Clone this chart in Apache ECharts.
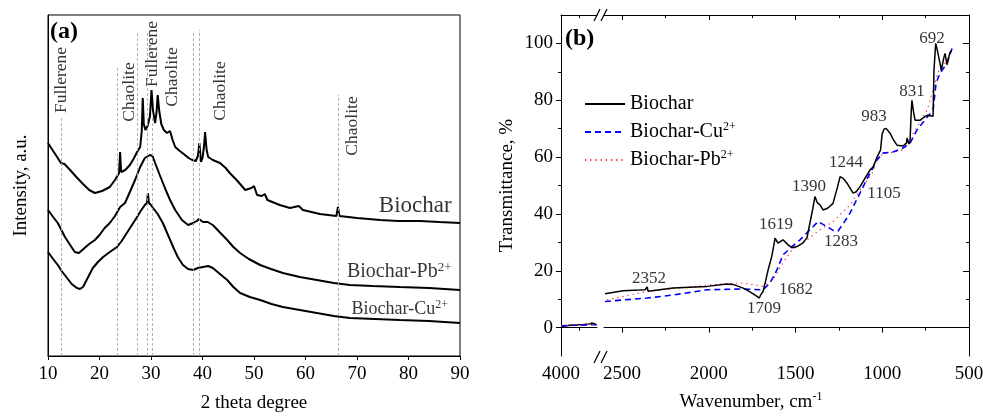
<!DOCTYPE html>
<html><head><meta charset="utf-8">
<script src="https://cdn.jsdelivr.net/npm/echarts@6/dist/echarts.min.js"></script>
<style>html,body{margin:0;padding:0;background:#fff}#c{width:983px;height:417px}</style>
</head><body><div id="c"></div>
<script>
const FONT = '"Liberation Serif","Times New Roman",serif';

// ---------- Panel (a): XRD ----------
const xrdBiocharTheta = [10.0,11.0,11.9,12.5,13.2,14.3,15.5,16.8,18.0,19.1,20.5,22.0,23.0,23.8,24.0,24.2,25.0,25.9,26.6,27.3,27.9,28.2,28.4,28.6,28.9,29.4,29.8,30.1,30.4,30.8,31.1,31.3,31.6,32.0,32.5,33.1,33.7,34.2,34.7,35.6,36.6,37.3,38.0,38.7,39.1,39.4,39.7,40.0,40.3,40.5,40.8,41.1,42.0,43.4,44.5,45.3,46.8,48.3,49.5,50.0,50.6,51.5,52.1,52.6,55.0,57.0,58.7,59.5,62.8,66.0,66.3,66.6,70.0,74.5,78.0,82.2,86.0,90.0];
const xrdBiocharI = [213,205,198,193,192,186,179,172,166,163,165,169,176,183,204,184,186,191,197,204,209,225,258,232,226,231,240,266,245,233,245,261,245,232,226,223,225,216,209,205,201,198,196,195,200,213,194,198,210,224,206,199,196,193,188,183,175,166,168,170,161,160,162,156,151,148,150,146,142,140,149,140,138,136,135,135,134,133];
const xrdPbTheta = [10.0,11.0,11.9,13.3,14.3,15.2,16.0,17.1,18.0,19.1,20.0,21.0,22.0,23.0,24.0,24.95,25.9,26.9,27.9,28.8,29.8,30.3,30.8,31.7,32.7,33.7,34.7,36.0,37.2,38.2,38.9,39.3,40.1,41.0,42.0,43.3,44.8,46.0,47.3,49.0,51.2,53.3,55.6,58.9,62.2,65.5,68.6,73.0,78.3,84.0,90.0];
const xrdPbI = [146,139,133,119,111,104,103,108,112,116,121,128,133,140,149,153,164,176,189,198,201,200,193,181,168,156,146,136,131,133,135,137,134,134,131,124,116,109,103,97,91,87,83,79,76,73,71,70,69,68,66];
const xrdCuTheta = [10.0,11.0,11.9,12.8,13.7,14.6,15.6,16.2,16.8,17.7,18.7,19.7,20.7,22.0,23.4,24.3,25.3,26.3,27.3,28.0,28.8,29.2,29.4,29.6,30.0,30.4,31.3,32.3,33.3,34.3,35.2,36.2,37.2,38.2,39.1,40.1,41.1,42.0,43.4,44.8,46.0,47.3,49.2,51.2,53.4,55.6,58.9,62.2,65.5,68.6,73.5,78.3,84.0,90.0];
const xrdCuI = [104,97,91,84,78,72,68,67,69,78,88,94,99,104,109,115,123,131,139,145,151,153,163,153,151,148,142,133,121,109,99,91,87,86,88,89,90,88,82,76,69,63,59,56,52,49,46,43,40,38,37,36,35,33];
// reference phase lines: 2theta and line top (a.u.)
const refLineTheta = [12.5,23.4,27.3,29.2,30.2,38.2,39.3,66.3];
const refLineTop = [238,289,323,323,239,324,326,261];
// phase labels: text, 2theta, a.u.
const phaseNames = ['Fullerene','Chaolite','Fullerene','Chaolite','Chaolite','Chaolite'];
const phaseTheta = [12.6,25.9,30.2,34.1,43.4,69.2];
const phaseI = [276,264,302,279,265,230];

// ---------- Panel (b): FTIR ----------
const ftirBiocharW_hi = [4000,3950,3900,3850,3800,3760,3740,3700,3650,3630,3600,3570,3550,3520,3505];
const ftirBiocharT_hi = [0.5,0.6,0.7,0.9,0.8,1.0,0.6,1.0,1.2,0.5,1.3,1.6,1.0,1.2,1.1];
const ftirCuW_hi = [4000,3800,3600,3505];
const ftirCuT_hi = [0.6,0.8,1.0,1.0];
const ftirPbW_hi = [4000,3800,3600,3505];
const ftirPbT_hi = [0.7,0.9,1.1,1.1];

const ftirBiocharW = [2598,2494,2400,2367,2355,2350,2339,2206,2010,1895,1860,1802,1760,1722,1709,1700,1687,1672,1658,1637,1625,1618,1601,1572,1543,1520,1491,1457,1434,1417,1400,1388,1375,1359,1341,1315,1284,1260,1243,1225,1203,1168,1150,1128,1088,1070,1053,1030,1010,1001,990,978,955,935,915,880,860,857,846,840,833,829,820,811,782,760,742,707,702,692,684,667,660,650,645,638,627,617,610,600];
const ftirBiocharT = [11.9,13.0,13.2,13.3,14.3,12.8,13.5,13.9,14.5,15.3,15.2,13.9,12.5,11.0,10.4,11.6,12.7,16.5,20.3,25,29,31.5,29.7,30.9,29.1,28.1,28.5,29.8,31.6,36.8,42,46.1,44,43.2,41.4,42,43.7,49,53.1,52.5,50.8,47.3,47.8,49.6,53.7,55.5,56.5,60,62.5,68,69.8,70.1,68.4,66,64.2,63.9,65,66.7,64.6,65.5,76,80,76,73,73,74,74.7,74.4,90.5,100,98,93,90.5,89.8,95,96.5,92.5,95,96.8,97.5];
const ftirCuW = [2598,2356,2200,2010,1820,1687,1647,1607,1572,1520,1474,1417,1370,1318,1283,1255,1220,1186,1128,1082,1030,996,938,880,840,800,742,707,690,667,627,598];
const ftirCuT = [9.2,10.4,11.5,13.3,13.6,13.3,15.7,20.3,25.6,28.5,30.9,34.4,37.3,35.5,34.2,34.0,37,40.3,47.4,53,59,61.4,61.8,63.2,64.9,69.5,74,76.5,86,89.5,93,98.2];
const ftirPbW = [2586,2356,2183,1918,1802,1687,1630,1572,1520,1457,1400,1359,1284,1186,1128,1060,1024,990,955,880,800,742,707,679,627,598];
const ftirPbT = [9.8,12.7,13.9,15.4,15.7,14.5,16.8,22.8,27.4,29.7,32.5,34.4,37.3,43.2,48.4,54,60,61.2,61.5,62.5,70.5,76.5,83.5,89.8,94,98];

const ftirMajorW = [500,1000,1500,2000,2500];
const ftirMinorW = [750,1250,1750,2250];
const ftirMajorW_hi = [4000];
const ftirMinorW_hi = [3750];
const ftirMajorT = [0,20,40,60,80,100];
const ftirMinorT = [10,30,50,70,90];
// peak annotations: text and anchor (wavenumber, %)
const peakText = ['692','831','983','1244','1390','1105','1619','1283','1682','1709','2352'];
const peakW = [713,829,1048,1209,1422,990,1612,1238,1497,1682,2344];
const peakT = [101.8,83.2,74.4,58.2,49.8,47,36.1,30.2,13.3,6.7,17.2];

const zip = (a,b) => a.map((v,i)=>[v,b[i]]);
const blk = '#000';
const plain = v => String(v);
const txt = (size, extra) => Object.assign({fontFamily: FONT, fontSize: size, color: blk}, extra||{});

const supRich = {
  m: {fontFamily: FONT, fontSize: 20, color: blk, lineHeight: 22},
  s: {fontFamily: FONT, fontSize: 12, color: blk, lineHeight: 13, verticalAlign: 'top'}
};
function richName(n){
  const m = n.match(/^(.*?)(\d\+)$/);
  return m ? '{m|'+m[1]+'}{s|'+m[2]+'}' : '{m|'+n+'}';
}

const axisLineK = {show:true, lineStyle:{color:blk, width:1}};
const noSplit = {show:false};

const xAxes = [
  // 0 panel a bottom
  {gridIndex:0, type:'value', min:10, max:90, interval:10, axisLine:axisLineK,
   axisTick:{show:true, length:4, lineStyle:{color:blk}}, axisLabel:txt(19,{margin:9, formatter:plain}), splitLine:noSplit,
   name:'2 theta degree', nameLocation:'middle', nameGap:38, nameTextStyle:txt(19)},
  // 1 B1 bottom major
  {gridIndex:1, type:'value', min:3500, max:4000, inverse:true, axisLine:axisLineK,
   axisTick:{show:true, length:5, customValues:ftirMajorW_hi, lineStyle:{color:blk}},
   axisLabel:txt(19,{margin:9, customValues:ftirMajorW_hi, formatter:plain}), splitLine:noSplit},
  // 2 B1 bottom minor
  {gridIndex:1, type:'value', position:'bottom', min:3500, max:4000, inverse:true, axisLine:{show:false},
   axisTick:{show:true, length:3, customValues:ftirMinorW_hi, lineStyle:{color:blk}},
   axisLabel:{show:false}, splitLine:noSplit},
  // 3 B1 top
  {gridIndex:1, type:'value', position:'top', min:3500, max:4000, inverse:true, axisLine:axisLineK,
   axisTick:{show:true, inside:true, length:3, customValues:ftirMinorW_hi, lineStyle:{color:blk}},
   axisLabel:{show:false}, splitLine:noSplit},
  // 4 B2 bottom major
  {gridIndex:2, type:'value', position:'bottom', min:500, max:2604, inverse:true, axisLine:axisLineK,
   axisTick:{show:true, length:5, customValues:ftirMajorW, lineStyle:{color:blk}},
   axisLabel:txt(19,{margin:9, customValues:ftirMajorW, formatter:plain}), splitLine:noSplit},
  // 5 B2 bottom minor
  {gridIndex:2, type:'value', position:'bottom', min:500, max:2604, inverse:true, axisLine:{show:false},
   axisTick:{show:true, length:3, customValues:ftirMinorW, lineStyle:{color:blk}},
   axisLabel:{show:false}, splitLine:noSplit},
  // 6 B2 top major
  {gridIndex:2, type:'value', position:'top', min:500, max:2604, inverse:true, axisLine:axisLineK,
   axisTick:{show:true, inside:true, length:5, customValues:ftirMajorW, lineStyle:{color:blk}},
   axisLabel:{show:false}, splitLine:noSplit},
  // 7 B2 top minor
  {gridIndex:2, type:'value', position:'top', min:500, max:2604, inverse:true, axisLine:{show:false},
   axisTick:{show:true, inside:true, length:3, customValues:ftirMinorW, lineStyle:{color:blk}},
   axisLabel:{show:false}, splitLine:noSplit}
];

const yAxes = [
  // 0 panel a
  {gridIndex:0, type:'value', min:0, max:341, axisLine:axisLineK, axisTick:{show:false}, axisLabel:{show:false}, splitLine:noSplit,
   name:'Intensity, a.u.', nameLocation:'middle', nameGap:17, nameTextStyle:txt(19)},
  // 1 B1 left major
  {gridIndex:1, type:'value', position:'left', min:-10, max:110, axisLine:axisLineK,
   axisTick:{show:true, length:5, customValues:ftirMajorT, lineStyle:{color:blk}},
   axisLabel:txt(19,{margin:8, customValues:ftirMajorT, formatter:plain}), splitLine:noSplit,
   name:'Transmittance, %', nameLocation:'middle', nameGap:44, nameTextStyle:txt(19)},
  // 2 B1 left minor
  {gridIndex:1, type:'value', position:'left', min:-10, max:110, axisLine:{show:false},
   axisTick:{show:true, length:3, customValues:ftirMinorT, lineStyle:{color:blk}},
   axisLabel:{show:false}, splitLine:noSplit},
  // 3 B2 right major
  {gridIndex:2, type:'value', position:'right', min:-10, max:110, axisLine:axisLineK,
   axisTick:{show:true, inside:true, length:6, customValues:ftirMajorT, lineStyle:{color:blk}},
   axisLabel:{show:false}, splitLine:noSplit},
  // 4 B2 right minor
  {gridIndex:2, type:'value', position:'right', min:-10, max:110, axisLine:{show:false},
   axisTick:{show:true, inside:true, length:3, customValues:ftirMinorT, lineStyle:{color:blk}},
   axisLabel:{show:false}, splitLine:noSplit}
];

const xrdLine = (name, xs, ys) => ({
  name, type:'line', xAxisIndex:0, yAxisIndex:0, data: zip(xs, ys), symbol:'none', showSymbol:false,
  lineStyle:{color:blk, width:2}, itemStyle:{color:blk}, z:3, silent:true, animation:false
});

const ftirStyles = {
  'Biochar': {color:blk, width:1.5, type:'solid'},
  'Biochar-Cu2+': {color:'#0000ff', width:1.6, type:[6,4]},
  'Biochar-Pb2+': {color:'#ff2020', width:1.2, type:[1.2,4]}
};
const ftirLine = (name, xi, yi, xs, ys) => ({
  name, type:'line', xAxisIndex:xi, yAxisIndex:yi, data: zip(xs, ys), symbol:'none', showSymbol:false,
  lineStyle: ftirStyles[name], itemStyle:{color: ftirStyles[name].color}, z:3, silent:true, animation:false
});

const series = [
  // reference lines (panel a)
  {name:'refs', type:'line', xAxisIndex:0, yAxisIndex:0, data:[], z:1, silent:true, animation:false,
   markLine:{symbol:['none','none'], silent:true, animation:false, label:{show:false},
     lineStyle:{color:'#a8a8a8', width:0.9, type:[3,2]},
     data: refLineTheta.map((t,i)=>[{coord:[t,0]},{coord:[t,refLineTop[i]]}])}},
  xrdLine('XRD Biochar', xrdBiocharTheta, xrdBiocharI),
  xrdLine('XRD Pb', xrdPbTheta, xrdPbI),
  xrdLine('XRD Cu', xrdCuTheta, xrdCuI),
  // phase labels
  {name:'phases', type:'scatter', xAxisIndex:0, yAxisIndex:0, symbolSize:1, itemStyle:{color:'transparent'},
   silent:true, animation:false, z:4,
   data: phaseNames.map((n,i)=>({name:n, value:[phaseTheta[i], phaseI[i]]})),
   label:{show:true, position:'inside', rotate:90, formatter:'{b}', fontFamily:FONT, fontSize:17.5, color:blk}},
  // series labels
  {name:'serlabels', type:'scatter', xAxisIndex:0, yAxisIndex:0, symbolSize:1, itemStyle:{color:'transparent'},
   silent:true, animation:false, z:4,
   data:[
     {name:'Biochar', value:[81.3,150], label:{formatter:'{m|Biochar}', rich:{m:{fontFamily:FONT,fontSize:23,color:blk}}}},
     {name:'Biochar-Pb2+', value:[78.2,84], label:{formatter:'{m|Biochar-Pb}{s|2+}', rich:{m:{fontFamily:FONT,fontSize:20,color:blk}, s:{fontFamily:FONT,fontSize:13,color:blk,verticalAlign:'bottom',padding:[0,0,9,0]}}}},
     {name:'Biochar-Cu2+', value:[78.3,47], label:{formatter:'{m|Biochar-Cu}{s|2+}', rich:{m:{fontFamily:FONT,fontSize:18,color:blk}, s:{fontFamily:FONT,fontSize:12,color:blk,verticalAlign:'bottom',padding:[0,0,8,0]}}}}
   ],
   label:{show:true, position:'inside'}},
  // FTIR
  ftirLine('Biochar', 1, 1, ftirBiocharW_hi, ftirBiocharT_hi),
  ftirLine('Biochar-Cu2+', 1, 1, ftirCuW_hi, ftirCuT_hi),
  ftirLine('Biochar-Pb2+', 1, 1, ftirPbW_hi, ftirPbT_hi),
  ftirLine('Biochar-Pb2+', 4, 3, ftirPbW, ftirPbT),
  ftirLine('Biochar-Cu2+', 4, 3, ftirCuW, ftirCuT),
  ftirLine('Biochar', 4, 3, ftirBiocharW, ftirBiocharT),
  {name:'peaks', type:'scatter', xAxisIndex:4, yAxisIndex:3, symbolSize:1, itemStyle:{color:'transparent'},
   silent:true, animation:false, z:4,
   data: peakText.map((n,i)=>({name:n, value:[peakW[i], peakT[i]]})),
   label:{show:true, position:'inside', formatter:'{b}', fontFamily:FONT, fontSize:17, color:blk}}
];

const option = {
  backgroundColor:'#fff',
  animation:false,
  textStyle:{fontFamily:FONT},
  title:[
    {text:'(a)', left:50, top:20, padding:0, textStyle:{fontFamily:FONT, fontSize:24, fontWeight:'bold', color:blk}},
    {text:'(b)', left:565, top:27, padding:0, textStyle:{fontFamily:FONT, fontSize:24, fontWeight:'bold', color:blk}}
  ],
  grid:[
    {left:48, top:15, width:412, height:341, show:true, borderColor:blk, borderWidth:1, backgroundColor:'transparent', outerBoundsMode:'none'},
    {left:561, top:15, width:36, height:341, outerBoundsMode:'none'},
    {left:604, top:15, width:365, height:341, outerBoundsMode:'none'}
  ],
  legend:{
    data:['Biochar','Biochar-Cu2+','Biochar-Pb2+'], orient:'vertical', left:579, top:89,
    itemWidth:40, itemHeight:12, itemGap:7, selectedMode:false,
    itemStyle:{opacity:0},
    formatter: richName,
    textStyle:{fontFamily:FONT, fontSize:20, color:blk, rich:supRich}
  },
  xAxis:xAxes, yAxis:yAxes, series,
  graphic:[
    {type:'line', shape:{x1:594,y1:363,x2:600,y2:351}, style:{stroke:blk, lineWidth:1.3}},
    {type:'line', shape:{x1:601,y1:363,x2:607,y2:351}, style:{stroke:blk, lineWidth:1.3}},
    {type:'line', shape:{x1:594,y1:21,x2:600,y2:9}, style:{stroke:blk, lineWidth:1.3}},
    {type:'line', shape:{x1:601,y1:21,x2:607,y2:9}, style:{stroke:blk, lineWidth:1.3}},
    {type:'text', x:751, y:402, style:{text:'{m|Wavenumber, cm}{s|-1}', x:0, y:0, align:'center', verticalAlign:'middle',
      rich:{m:{fontFamily:FONT,fontSize:19,fill:blk}, s:{fontFamily:FONT,fontSize:12,fill:blk,verticalAlign:'bottom',padding:[0,0,11,0]}}}}
  ]
};
const chart = echarts.init(document.getElementById('c'), null, {renderer:'canvas'});
chart.setOption(option);
</script></body></html>
